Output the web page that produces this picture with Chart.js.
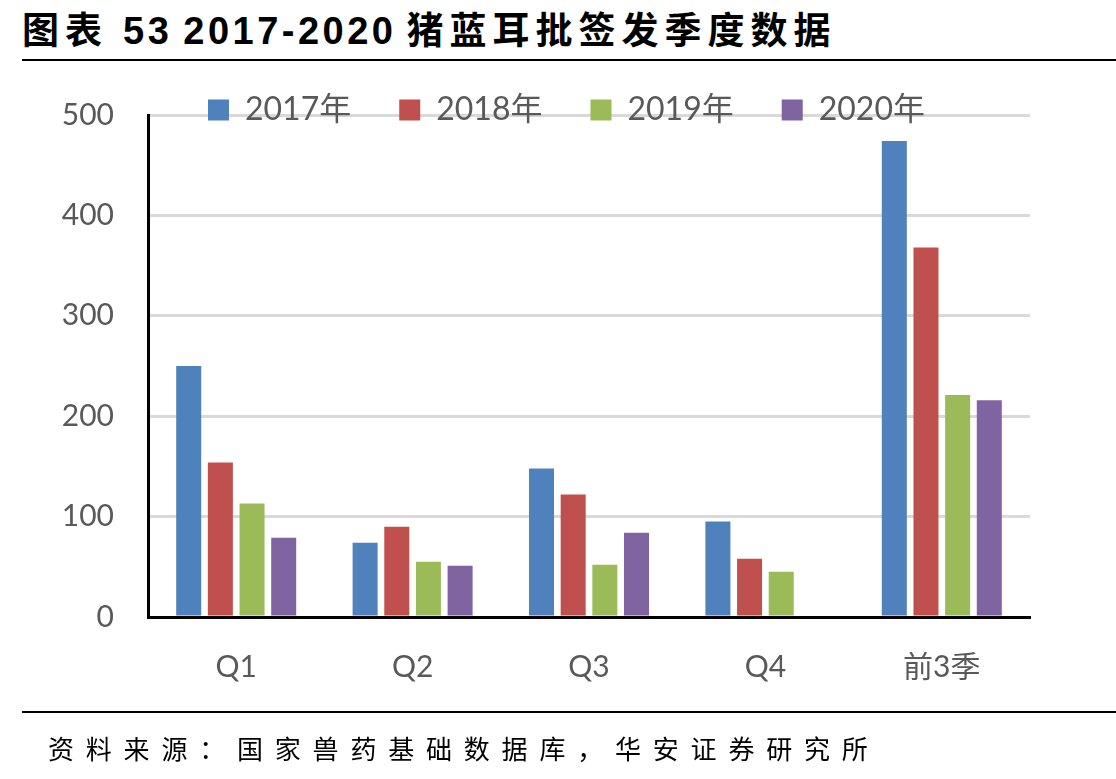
<!DOCTYPE html>
<html>
<head>
<meta charset="utf-8">
<script src="https://cdn.jsdelivr.net/npm/chart.js@4.4.1/dist/chart.umd.min.js"></script>
<style>
    html, body { margin: 0; padding: 0; background: #ffffff; }
    body { width: 1116px; height: 779px; position: relative; overflow: hidden; }
    #chart-wrap { position: absolute; left: 0; top: 0; width: 1116px; height: 779px; }
    #title {
        position: absolute; left: 22px; top: 8px; line-height: 40px;
        font-weight: 700; color: #000; white-space: nowrap;
    }
    #title .cjk { font-family: "Noto Sans CJK SC", sans-serif; font-size: 37px; letter-spacing: 6px; }
    #title .num { font-family: "Liberation Sans", sans-serif; font-size: 38px; letter-spacing: 3.5px; }
    .rule { position: absolute; left: 22px; right: 0; height: 2px; background: #000; }
    #source {
        position: absolute; left: 48px; top: 728px; line-height: 40px;
        font-family: "Noto Sans CJK SC", sans-serif;
        font-size: 26px; letter-spacing: 11.8px; color: #000; white-space: nowrap;
    }
</style>
</head>
<body>
<div id="title"><span class="cjk">图表</span><span class="num" style="margin-left:15px">53</span><span class="num" style="margin-left:11px">2017-2020</span><span class="cjk" style="margin-left:10px">猪蓝耳批签发季度数据</span></div>
<div class="rule" style="top:59px"></div>
<div id="chart-wrap"><canvas id="barChart"></canvas></div>
<div class="rule" style="top:711px"></div>
<div id="source">资料来源：国家兽药基础数据库，华安证券研究所</div>
<script>
const Categories = ['Q1', 'Q2', 'Q3', 'Q4', '前3季'];
const Series_Labels = ['2017年', '2018年', '2019年', '2020年'];
const Values_2017 = [250, 74, 148, 95, 474];
const Values_2018 = [154, 90, 122, 58, 368];
const Values_2019 = [113, 55, 52, 45, 221];
const Values_2020 = [79, 51, 84, null, 216];
const Y_Ticks = [0, 100, 200, 300, 400, 500];

document.addEventListener('DOMContentLoaded', () => {
    const Ctx = document.getElementById('barChart').getContext('2d');
    const Colors = ['#4f81bd', '#c0504d', '#9bbb59', '#8064a2'];
    const All_Values = [Values_2017, Values_2018, Values_2019, Values_2020];

    // legend takes no room in the layout, then is moved over the top of the plot
    const Legend_Overlay = {
        id: 'legendOverlay',
        afterInit(Chart_Ref) {
            const Legend = Chart_Ref.legend;
            if (!Legend) return;
            const Orig_Fit = Legend.fit;
            Legend.fit = function () {
                Orig_Fit.call(this);
                this.Full_Height = this.height;
                this.height = 0;
            };
        },
        afterLayout(Chart_Ref) {
            const Legend = Chart_Ref.legend;
            if (!Legend) return;
            const W = Legend.width;
            const H = Legend.Full_Height || 140;
            Legend.left = 160;
            Legend.top = 46;
            Legend.right = Legend.left + W;
            Legend.bottom = Legend.top + H;
            Legend.height = H;
        }
    };

    Chart.defaults.font.family = 'Lato, "Noto Sans CJK SC", sans-serif';
    Chart.defaults.color = '#595959';

    new Chart(Ctx, {
        type: 'bar',
        data: {
            labels: Categories,
            datasets: All_Values.map((Vals, i) => ({
                label: Series_Labels[i],
                data: Vals,
                backgroundColor: Colors[i],
                borderWidth: 0,
                categoryPercentage: 0.718,
                barPercentage: 0.79
            }))
        },
        options: {
            responsive: true,
            maintainAspectRatio: false,
            animation: false,
            layout: { padding: { top: 115, right: 86, bottom: 69, left: 0 } },
            scales: {
                x: {
                    grid: { display: false },
                    border: { color: '#000000', width: 3 },
                    ticks: { font: { size: 30 }, color: '#595959', padding: 24 },
                    afterFit: (Scale) => { Scale.height = 93; }
                },
                y: {
                    min: 0,
                    max: 500,
                    afterBuildTicks: (Scale) => { Scale.ticks = Y_Ticks.map(v => ({ value: v })); },
                    grid: { color: '#d9d9d9', lineWidth: 3, drawTicks: false },
                    border: { color: '#000000', width: 3 },
                    ticks: { font: { size: 30 }, color: '#595959', padding: 34 },
                    afterFit: (Scale) => { Scale.width = 148; }
                }
            },
            plugins: {
                legend: {
                    position: 'top',
                    align: 'start',
                    labels: {
                        boxWidth: 21,
                        boxHeight: 21,
                        padding: 48,
                        color: '#595959',
                        font: { size: 32 }
                    }
                },
                tooltip: { enabled: false }
            }
        },
        plugins: [Legend_Overlay]
    });
});
</script>
</body>
</html>
